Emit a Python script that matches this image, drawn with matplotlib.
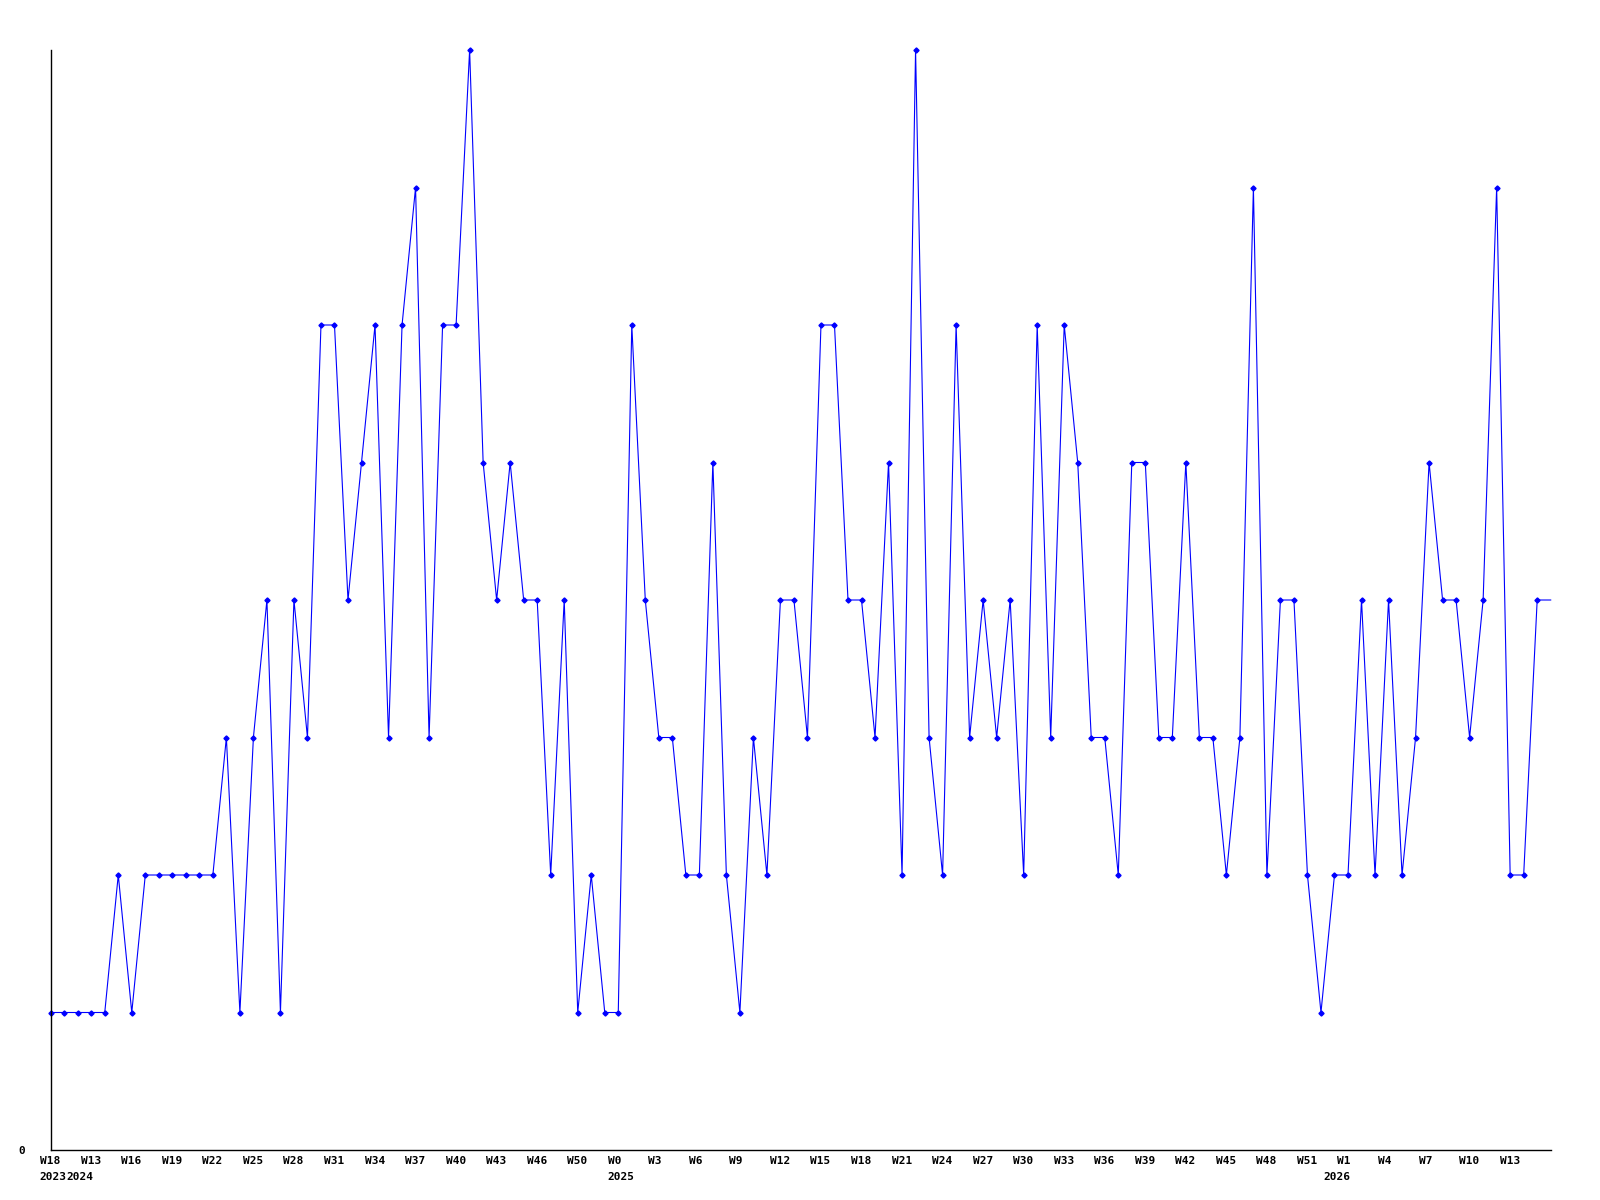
import matplotlib
matplotlib.use('Agg')
import matplotlib.pyplot as plt
import matplotlib.transforms as mtransforms

# 每周计数（最后一个点只有连线，没有标记）
counts = [1, 1, 1, 1, 1, 2, 1, 2, 2, 2, 2, 2, 2, 3, 1, 3, 4, 1, 4, 3,
          6, 6, 4, 5, 6, 3, 6, 7, 3, 6, 6, 8, 5, 4, 5, 4, 4, 2, 4,
          1, 2, 1, 1, 6, 4, 3, 3, 2, 2, 5, 2, 1, 3, 2, 4, 4, 3, 6,
          6, 4, 4, 3, 5, 2, 8, 3, 2, 6, 3, 4, 3, 4, 2, 6, 3, 6, 5, 3,
          3, 2, 5, 5, 3, 3, 5, 3, 3, 2, 3, 7, 2, 4, 4, 2, 1, 2, 2,
          4, 2, 4, 2, 3, 5, 4, 4, 3, 4, 7, 2, 2, 4,
          4]

# 每隔三周一个刻度标签
week_labels = ['W18', 'W13', 'W16', 'W19', 'W22', 'W25', 'W28', 'W31', 'W34',
               'W37', 'W40', 'W43', 'W46', 'W50', 'W0', 'W3', 'W6', 'W9',
               'W12', 'W15', 'W18', 'W21', 'W24', 'W27', 'W30', 'W33', 'W36',
               'W39', 'W42', 'W45', 'W48', 'W51', 'W1', 'W4', 'W7', 'W10', 'W13']
label_step = 3

# 年份标签及其所在的点
years = ['2023', '2024', '2025', '2026']
year_index = [0, 2, 42, 95]

font = {'family': ['DejaVu Sans Mono'], 'weight': 'bold', 'size': 8}

fig = plt.figure(figsize=(16, 12), dpi=100)
ax = fig.add_axes([50.7 / 1600, 50 / 1200, 1500 / 1600, 1100 / 1200])

x = list(range(len(counts)))
ax.plot(x, counts, color='#0000ff', linewidth=0.8,
        marker='D', markersize=2.6, markevery=list(range(len(counts) - 1)),
        clip_on=False)

ax.set_xlim(0, len(counts) - 1)
ax.set_ylim(0, 8)

for side in ['top', 'right']:
    ax.spines[side].set_visible(False)
for side in ['left', 'bottom']:
    ax.spines[side].set_linewidth(1.0)
    ax.spines[side].set_color('black')

# y轴只有一个 0
ax.set_yticks([0])
ax.set_yticklabels(['0'], fontdict=font)
ax.tick_params(axis='y', length=0, pad=18.5)

# x轴刻度标签左对齐，往左挪一点
ax.set_xticks(list(range(0, label_step * len(week_labels), label_step)))
ax.set_xticklabels(week_labels, fontdict=font, ha='left')
ax.tick_params(axis='x', length=0, pad=4)
offset = mtransforms.ScaledTranslation(-10.5 / 100, 0, fig.dpi_scale_trans)
for lab in ax.get_xticklabels():
    lab.set_transform(lab.get_transform() + offset)

for yr, i in zip(years, year_index):
    ax.annotate(yr, xy=(i, 0), xycoords=('data', 'axes fraction'),
                xytext=(-7.9, -19.8), textcoords='offset points',
                ha='left', va='center', fontproperties=None, **font)

fig.savefig('out.png', dpi=100)
